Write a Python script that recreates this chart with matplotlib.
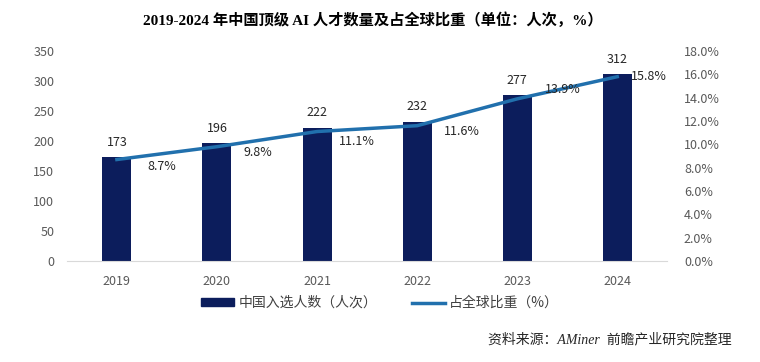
import matplotlib.pyplot as plt
from matplotlib.patches import Patch
from matplotlib.lines import Line2D

plt.rcParams['font.family'] = ['Noto Sans CJK SC', 'DejaVu Sans']

years = ['2019', '2020', '2021', '2022', '2023', '2024']
talents = [173, 196, 222, 232, 277, 312]
share = [8.7, 9.8, 11.1, 11.6, 13.9, 15.8]

bar_color = '#0c1d5c'
line_color = '#2170ad'
tick_color = '#595959'

fig = plt.figure(figsize=(7.6, 3.62), dpi=100)
ax = fig.add_axes([0.088, 0.279, 0.79, 0.58])
ax2 = ax.twinx()

x = range(len(years))
ax.bar(x, talents, width=0.29, color=bar_color, zorder=2)
for i, v in enumerate(talents):
    ax.annotate(str(v), (i, v), xytext=(0, 6), textcoords='offset points',
                ha='center', va='bottom', fontsize=9, color='#262626')

ax.set_ylim(0, 350)
ax.set_yticks(range(0, 351, 50))
ax.set_xlim(-0.5, len(years) - 0.5)
ax.set_xticks(list(x))
ax.set_xticklabels(years)
ax.tick_params(axis='both', length=0, labelsize=9, colors=tick_color)
ax.tick_params(axis='x', pad=10)
ax.tick_params(axis='y', pad=9)
for s in ['top', 'right', 'left']:
    ax.spines[s].set_visible(False)
ax.spines['bottom'].set_color('#d9d9d9')

ax2.plot(list(x), share, color=line_color, linewidth=2.5, zorder=3)
ax2.set_ylim(0, 18)
ax2.set_yticks(range(0, 19, 2))
ax2.set_yticklabels([f'{v:.1f}%' for v in range(0, 19, 2)])
ax2.tick_params(axis='y', length=0, labelsize=9, colors=tick_color, pad=12)
for s in ax2.spines.values():
    s.set_visible(False)

offsets = [(22, -5), (19, -4.5), (16, -7), (19, -4), (20, 6.5), (10, 0)]
for i, v in enumerate(share):
    ax2.annotate(f'{v:.1f}%', (i, v), xytext=offsets[i], textcoords='offset points',
                 ha='left', va='center', fontsize=9, color='#262626')

fig.text(0.49, 0.945, '2019-2024 年中国顶级 AI 人才数量及占全球比重（单位：人次，%）',
         ha='center', va='center', fontsize=11, fontweight='bold',
         family=['Liberation Serif', 'Noto Sans CJK SC'])

handles = [Patch(color=bar_color), Line2D([0], [0], color=line_color, linewidth=2.5)]
fig.legend(handles, ['中国入选人数（人次）', '占全球比重（%）'],
           loc='center', bbox_to_anchor=(0.5, 0.163), ncol=2, frameon=False,
           fontsize=10, handlelength=2.4, handleheight=0.5, columnspacing=2.5,
           handletextpad=0.3, labelcolor='#404040')

fig.text(0.963, 0.061, '资料来源：AMiner  前瞻产业研究院整理', ha='right', va='center',
         fontsize=10, style='italic', color='#262626',
         family=['Liberation Serif', 'Noto Sans CJK SC'])

fig.savefig('out.png', dpi=100)
